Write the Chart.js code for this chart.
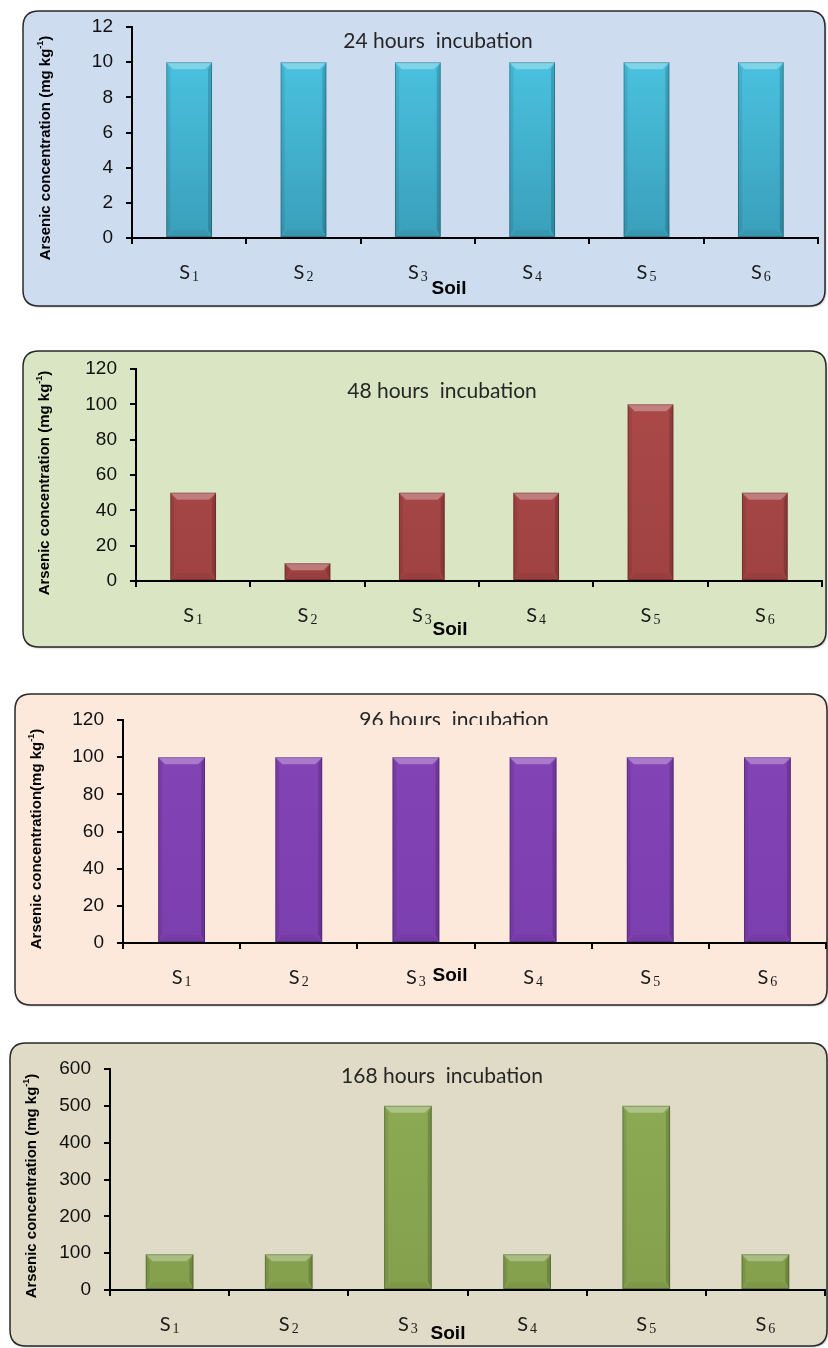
<!DOCTYPE html>
<html>
<head>
<meta charset="utf-8">
<title>Arsenic concentration by soil and incubation time</title>
<script src="https://cdn.jsdelivr.net/npm/chart.js@4.4.0/dist/chart.umd.min.js"></script>
<style>
  body { margin: 0; background: #fff; width: 828px; height: 1348px; position: relative; overflow: hidden; }
  canvas { position: absolute; left: 0; }
</style>
</head>
<body>
<canvas id="c24"></canvas>
<canvas id="c48"></canvas>
<canvas id="c96"></canvas>
<canvas id="c168"></canvas>
<script>
// Data: arsenic concentration (mg/kg) per soil, one array per incubation time
const soilNames = ['S', 'S', 'S', 'S', 'S', 'S'];
const soilIndex = ['1', '2', '3', '4', '5', '6'];
const conc24h = [10, 10, 10, 10, 10, 10];
const conc48h = [50, 10, 50, 50, 100, 50];
const conc96h = [100, 100, 100, 100, 100, 100];
const conc168h = [97, 97, 500, 97, 500, 97];
const yMaxes = [12, 120, 120, 600];
const ySteps = [2, 20, 20, 100];
const panelTitles = ['24 hours  incubation', '48 hours  incubation', '96 hours  incubation', '168 hours  incubation'];

const soilLabels = soilNames.map((s, i) => s + soilIndex[i]);

// Page layout for each panel (page coordinates)
const panels = [
  { id: 'c24', top: 0, height: 330, data: conc24h, bg: '#cedcf0', bar: ['#4cc8e6', '#3a9fba'],
    frame: { x: 23, y: 11, w: 802, h: 295 }, area: { l: 132, t: 27, r: 818, b: 238 },
    title: { x: 438, y: 41 }, soil: { x: 449, y: 289 }, yTitle: { x: 46, y: 148, text: 'Arsenic concentration (mg kg' } },
  { id: 'c48', top: 330, height: 340, data: conc48h, bg: '#dae5c4', bar: ['#ad4a4a', '#a04242'],
    frame: { x: 23, y: 351, w: 803, h: 296 }, area: { l: 136, t: 369, r: 822, b: 581 },
    title: { x: 442, y: 391 }, soil: { x: 450, y: 630 }, yTitle: { x: 45, y: 483, text: 'Arsenic concentration (mg kg' } },
  { id: 'c96', top: 670, height: 360, data: conc96h, bg: '#fce9dc', bar: ['#8444b6', '#7c3fae'],
    frame: { x: 15, y: 694, w: 812, h: 311 }, area: { l: 123, t: 720, r: 826, b: 943 },
    title: { x: 454, y: 720, clip: 725 }, soil: { x: 450, y: 976 }, yTitle: { x: 37, y: 839, text: 'Arsenic concentration(mg kg' } },
  { id: 'c168', top: 1030, height: 318, data: conc168h, bg: '#dfdbc6', bar: ['#8dab55', '#84a04d'],
    frame: { x: 10, y: 1043, w: 817, h: 303 }, area: { l: 110, t: 1069, r: 825, b: 1290 },
    title: { x: 442, y: 1076 }, soil: { x: 448, y: 1334 }, yTitle: { x: 32, y: 1186, text: 'Arsenic concentration (mg kg' } }
];

const Y_SCALE_W = 55;
const X_SCALE_H = 40;
const LABEL_DROP = 35;   // soil label centre below the x axis

function roundRect(ctx, x, y, w, h, r) {
  ctx.beginPath();
  ctx.moveTo(x + r, y);
  ctx.lineTo(x + w - r, y);
  ctx.quadraticCurveTo(x + w, y, x + w, y + r);
  ctx.lineTo(x + w, y + h - r);
  ctx.quadraticCurveTo(x + w, y + h, x + w - r, y + h);
  ctx.lineTo(x + r, y + h);
  ctx.quadraticCurveTo(x, y + h, x, y + h - r);
  ctx.lineTo(x, y + r);
  ctx.quadraticCurveTo(x, y, x + r, y);
  ctx.closePath();
}

// Rounded panel frame, titles, soil labels and bar bevels
const panelDecor = {
  id: 'panelDecor',
  beforeDraw(chart, args, opts) {
    const p = opts.panel;
    const ctx = chart.ctx;
    const f = p.frame;
    ctx.save();
    ctx.translate(0, -p.top);
    ctx.shadowColor = 'rgba(0,0,0,0.35)';
    ctx.shadowBlur = 2;
    ctx.shadowOffsetX = 1;
    ctx.shadowOffsetY = 1;
    roundRect(ctx, f.x, f.y, f.w, f.h, 16);
    ctx.fillStyle = p.bg;
    ctx.fill();
    ctx.shadowColor = 'transparent';
    ctx.lineWidth = 1.5;
    ctx.strokeStyle = '#2a2a2a';
    ctx.stroke();
    ctx.restore();
  },
  afterDatasetsDraw(chart) {
    const ctx = chart.ctx;
    const meta = chart.getDatasetMeta(0);
    ctx.save();
    meta.data.forEach(bar => {
      const { x, y, base, width } = bar.getProps(['x', 'y', 'base', 'width'], true);
      const l = x - width / 2, r = x + width / 2;
      const b = Math.min(7, (base - y) / 2);
      // top bevel
      ctx.fillStyle = 'rgba(255,255,255,0.30)';
      ctx.beginPath();
      ctx.moveTo(l, y); ctx.lineTo(r, y); ctx.lineTo(r - b, y + b); ctx.lineTo(l + b, y + b);
      ctx.closePath(); ctx.fill();
      // side shading
      ctx.fillStyle = 'rgba(0,0,0,0.08)';
      ctx.beginPath();
      ctx.moveTo(l, y); ctx.lineTo(l + b - 3, y + b); ctx.lineTo(l + b - 3, base - b); ctx.lineTo(l, base);
      ctx.closePath(); ctx.fill();
      ctx.fillStyle = 'rgba(0,0,0,0.16)';
      ctx.beginPath();
      ctx.moveTo(r, y); ctx.lineTo(r - b + 3, y + b); ctx.lineTo(r - b + 3, base - b); ctx.lineTo(r, base);
      ctx.closePath(); ctx.fill();
      ctx.fillStyle = 'rgba(0,0,0,0.05)';
      ctx.beginPath();
      ctx.moveTo(l, base); ctx.lineTo(l + b, base - b); ctx.lineTo(r - b, base - b); ctx.lineTo(r, base);
      ctx.closePath(); ctx.fill();
      ctx.strokeStyle = 'rgba(0,0,0,0.22)';
      ctx.lineWidth = 1;
      ctx.strokeRect(l + 0.5, y + 0.5, width - 1, base - y - 1);
    });
    ctx.restore();
  },
  afterDraw(chart, args, opts) {
    const p = opts.panel;
    const ctx = chart.ctx;
    const xScale = chart.scales.x;

    // soil labels: S with a serif subscript, centred on each category
    ctx.save();
    ctx.fillStyle = '#1a1a1a';
    ctx.textBaseline = 'middle';
    ctx.textAlign = 'left';
    const sFont = '20px Lato, "Open Sans", sans-serif';
    const dFont = '14px "Liberation Serif", "DejaVu Serif", serif';
    const ly = xScale.top + LABEL_DROP;
    soilLabels.forEach((lab, i) => {
      const cx = xScale.getPixelForValue(i);
      ctx.font = sFont;
      const ws = ctx.measureText(soilNames[i]).width;
      ctx.font = dFont;
      const wd = ctx.measureText(soilIndex[i]).width;
      const x0 = cx - (ws + 2 + wd) / 2;
      ctx.font = sFont;
      ctx.fillText(soilNames[i], x0, ly);
      ctx.font = dFont;
      ctx.fillText(soilIndex[i], x0 + ws + 2, ly + 4);
    });
    ctx.restore();

    ctx.save();
    ctx.translate(0, -p.top);

    // panel title
    ctx.save();
    if (p.title.clip) {
      ctx.beginPath();
      ctx.rect(0, 0, 828, p.title.clip);
      ctx.clip();
    }
    ctx.fillStyle = '#262626';
    ctx.font = '21px Lato, "Open Sans", sans-serif';
    ctx.textAlign = 'center';
    ctx.textBaseline = 'middle';
    ctx.fillText(p.titleText, p.title.x, p.title.y);
    ctx.restore();

    // x axis title
    ctx.fillStyle = '#000';
    ctx.font = 'bold 19px "Liberation Sans Narrow", "Liberation Sans", Arial, sans-serif';
    ctx.textAlign = 'center';
    ctx.textBaseline = 'middle';
    ctx.fillText('Soil', p.soil.x, p.soil.y);

    // y axis title with superscript
    ctx.save();
    ctx.translate(p.yTitle.x, p.yTitle.y);
    ctx.rotate(-Math.PI / 2);
    const mainFont = 'bold 15px "Liberation Sans Narrow", "Arial Narrow", sans-serif';
    const supFont = 'bold 9px "Liberation Sans Narrow", "Arial Narrow", sans-serif';
    ctx.font = mainFont;
    const w1 = ctx.measureText(p.yTitle.text).width;
    const w3 = ctx.measureText(')').width;
    ctx.font = supFont;
    const w2 = ctx.measureText('-1').width;
    const x0 = -(w1 + w2 + w3) / 2;
    ctx.textAlign = 'left';
    ctx.textBaseline = 'middle';
    ctx.font = mainFont;
    ctx.fillText(p.yTitle.text, x0, 0);
    ctx.font = supFont;
    ctx.fillText('-1', x0 + w1, -5);
    ctx.font = mainFont;
    ctx.fillText(')', x0 + w1 + w2, 0);
    ctx.restore();

    ctx.restore();
  }
};

function buildChart(p, i) {
  const canvas = document.getElementById(p.id);
  canvas.width = 828;
  canvas.height = p.height;
  canvas.style.top = p.top + 'px';
  canvas.style.width = '828px';
  canvas.style.height = p.height + 'px';
  p.titleText = panelTitles[i];

  const areaTop = p.area.t - p.top;
  const areaBottom = p.area.b - p.top;

  return new Chart(canvas.getContext('2d'), {
    type: 'bar',
    data: {
      labels: soilLabels,
      datasets: [{
        data: p.data,
        backgroundColor: (c) => {
          const area = c.chart.chartArea;
          if (!area) return p.bar[0];
          const g = c.chart.ctx.createLinearGradient(0, area.top, 0, area.bottom);
          g.addColorStop(0, p.bar[0]);
          g.addColorStop(1, p.bar[1]);
          return g;
        },
        borderWidth: 0,
        barPercentage: 0.4,
        categoryPercentage: 1
      }]
    },
    options: {
      responsive: false,
      animation: false,
      devicePixelRatio: 1,
      layout: {
        padding: {
          left: p.area.l - Y_SCALE_W,
          top: areaTop,
          right: 828 - p.area.r,
          bottom: p.height - areaBottom - X_SCALE_H
        }
      },
      plugins: {
        legend: { display: false },
        tooltip: { enabled: false },
        panelDecor: { panel: p }
      },
      scales: {
        x: {
          afterFit: (s) => { s.height = X_SCALE_H; },
          border: { display: true, color: '#000', width: 2 },
          grid: { offset: true, drawOnChartArea: false, drawTicks: true, tickLength: 6, color: '#000', lineWidth: 2 },
          ticks: { display: false }
        },
        y: {
          min: 0,
          max: yMaxes[i],
          afterFit: (s) => { s.width = Y_SCALE_W; },
          border: { display: true, color: '#000', width: 2 },
          grid: { drawOnChartArea: false, drawTicks: true, tickLength: 6, color: '#000', lineWidth: 2 },
          ticks: { stepSize: ySteps[i], color: '#111', padding: 13, font: { family: '"Liberation Sans", Arial, sans-serif', size: 19 } }
        }
      }
    },
    plugins: [panelDecor]
  });
}

panels.forEach(buildChart);
</script>
</body>
</html>
